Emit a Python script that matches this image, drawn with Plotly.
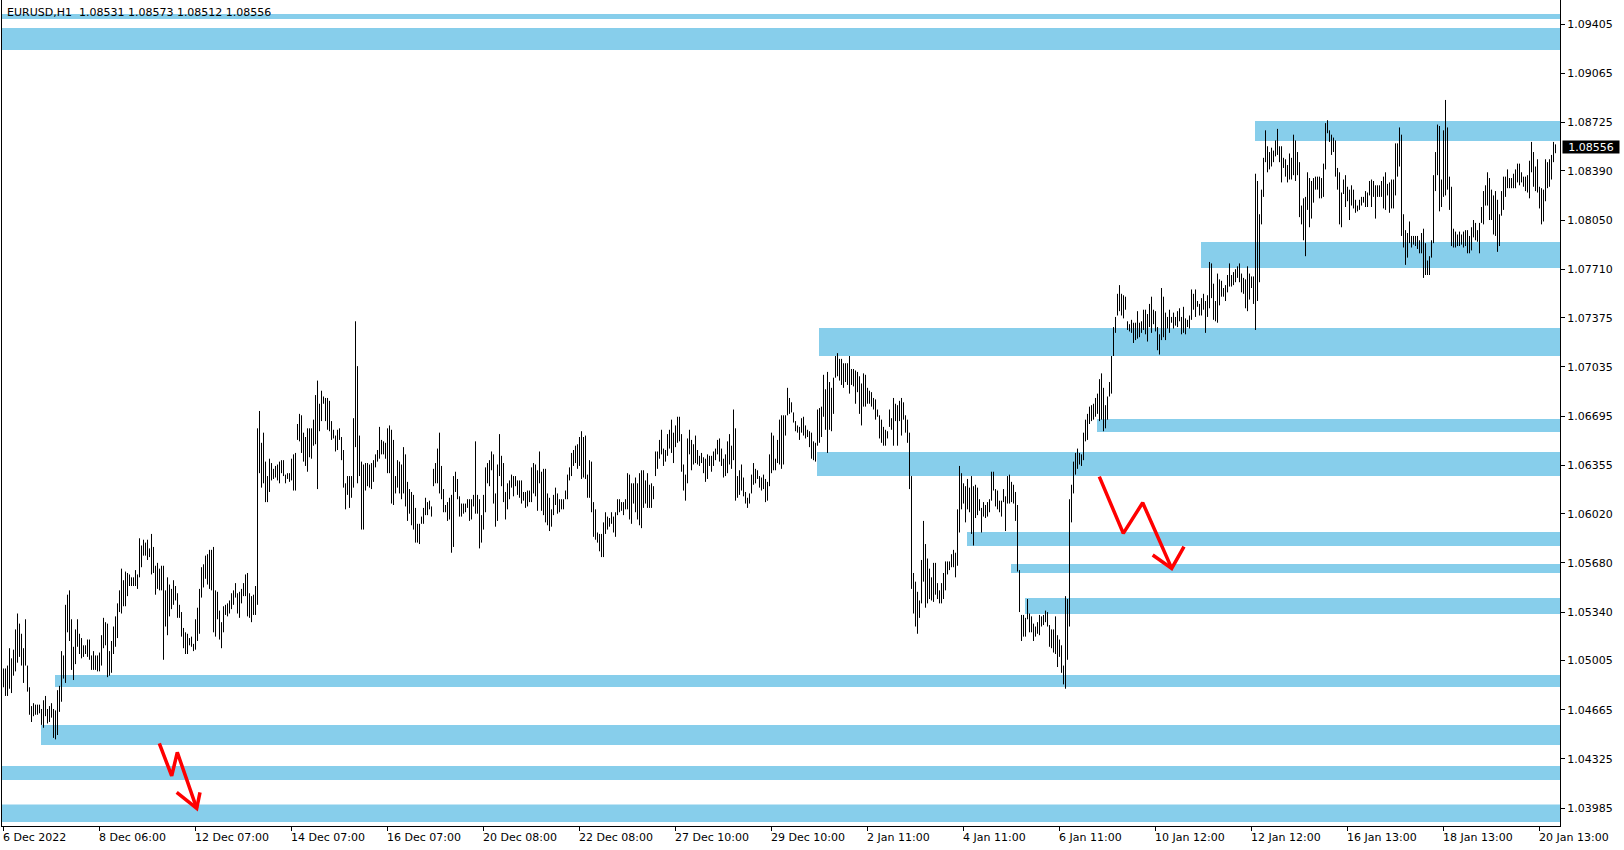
import plotly.graph_objects as go

# ---------------- data ----------------
symbol_title = "EURUSD,H1  1.08531 1.08573 1.08512 1.08556"
last_price = 1.08556

bar_high = [
    1.0495, 1.0495, 1.0497, 1.0509, 1.0502, 1.0508, 1.0522, 1.0533, 1.0526, 1.0519,
    1.0509, 1.0529, 1.0497, 1.0482, 1.0469, 1.0471, 1.0470, 1.0470, 1.0470, 1.0467,
    1.0473, 1.0476, 1.0467, 1.0469, 1.0471, 1.0467, 1.0466, 1.0480, 1.0483, 1.0507,
    1.0504, 1.0539, 1.0546, 1.0549, 1.0529, 1.0510, 1.0522, 1.0529, 1.0519, 1.0516,
    1.0511, 1.0511, 1.0515, 1.0515, 1.0504, 1.0507, 1.0504, 1.0504, 1.0506, 1.0518,
    1.0530, 1.0527, 1.0526, 1.0507, 1.0514, 1.0524, 1.0531, 1.0540, 1.0549, 1.0564,
    1.0556, 1.0562, 1.0561, 1.0560, 1.0558, 1.0558, 1.0563, 1.0560, 1.0585, 1.0580,
    1.0584, 1.0582, 1.0584, 1.0578, 1.0588, 1.0579, 1.0566, 1.0568, 1.0564, 1.0566,
    1.0566, 1.0549, 1.0558, 1.0553, 1.0550, 1.0556, 1.0552, 1.0547, 1.0539, 1.0534,
    1.0523, 1.0520, 1.0519, 1.0516, 1.0517, 1.0512, 1.0529, 1.0537, 1.0550, 1.0565,
    1.0567, 1.0573, 1.0574, 1.0577, 1.0577, 1.0579, 1.0549, 1.0548, 1.0535, 1.0527,
    1.0538, 1.0539, 1.0540, 1.0542, 1.0547, 1.0549, 1.0554, 1.0547, 1.0548, 1.0550,
    1.0554, 1.0560, 1.0561, 1.0547, 1.0545, 1.0546, 1.0552, 1.0661, 1.0673, 1.0651,
    1.0658, 1.0638, 1.0628, 1.0640, 1.0637, 1.0633, 1.0635, 1.0636, 1.0638, 1.0639,
    1.0639, 1.0629, 1.0630, 1.0630, 1.0640, 1.0643, 1.0644, 1.0664, 1.0671, 1.0670,
    1.0658, 1.0655, 1.0661, 1.0661, 1.0661, 1.0667, 1.0684, 1.0694, 1.0678, 1.0687,
    1.0683, 1.0682, 1.0682, 1.0680, 1.0666, 1.0660, 1.0656, 1.0660, 1.0661, 1.0655,
    1.0646, 1.0623, 1.0628, 1.0628, 1.0628, 1.0668, 1.0735, 1.0704, 1.0656, 1.0638,
    1.0636, 1.0637, 1.0637, 1.0636, 1.0637, 1.0639, 1.0643, 1.0646, 1.0662, 1.0653,
    1.0652, 1.0651, 1.0661, 1.0663, 1.0660, 1.0653, 1.0628, 1.0639, 1.0638,
    1.0636, 1.0648, 1.0643, 1.0624, 1.0619, 1.0617, 1.0615, 1.0606, 1.0595, 1.0595,
    1.0600, 1.0606, 1.0613, 1.0610, 1.0611, 1.0607, 1.0633, 1.0637, 1.0647, 1.0658,
    1.0635, 1.0619, 1.0608, 1.0610, 1.0613, 1.0615, 1.0628, 1.0631, 1.0626, 1.0614,
    1.0609, 1.0609, 1.0609, 1.0612, 1.0612, 1.0612, 1.0615, 1.0652, 1.0615, 1.0612,
    1.0601, 1.0615, 1.0634, 1.0637, 1.0639, 1.0645, 1.0643, 1.0616, 1.0636, 1.0657,
    1.0642, 1.0637, 1.0617, 1.0623, 1.0625, 1.0629, 1.0628, 1.0628, 1.0625, 1.0625,
    1.0625, 1.0617, 1.0617, 1.0618, 1.0618, 1.0634, 1.0637, 1.0636, 1.0632, 1.0645,
    1.0631, 1.0633, 1.0633, 1.0616, 1.0613, 1.0605, 1.0615, 1.0620, 1.0616, 1.0612,
    1.0612, 1.0612, 1.0618, 1.0629, 1.0634, 1.0644, 1.0646, 1.0649, 1.0650, 1.0655,
    1.0659, 1.0655, 1.0656, 1.0629, 1.0639, 1.0638, 1.0610, 1.0605, 1.0589, 1.0588,
    1.0588, 1.0596, 1.0603, 1.0600, 1.0599, 1.0603, 1.0600, 1.0603, 1.0612, 1.0612,
    1.0610, 1.0610, 1.0612, 1.0630, 1.0629, 1.0623, 1.0623, 1.0627, 1.0623, 1.0630,
    1.0632, 1.0632, 1.0625, 1.0630, 1.0622, 1.0623, 1.0621, 1.0645, 1.0645, 1.0653,
    1.0660, 1.0647, 1.0646, 1.0657, 1.0660, 1.0667, 1.0658, 1.0663, 1.0669, 1.0669,
    1.0657, 1.0636, 1.0629, 1.0654, 1.0660, 1.0653, 1.0650, 1.0656, 1.0646, 1.0642,
    1.0644, 1.0641, 1.0640, 1.0643, 1.0642, 1.0642, 1.0645, 1.0647, 1.0653, 1.0654,
    1.0647, 1.0640, 1.0643, 1.0652, 1.0657, 1.0649, 1.0674, 1.0661, 1.0628, 1.0632,
    1.0636, 1.0627, 1.0617, 1.0613, 1.0616, 1.0629, 1.0637, 1.0633, 1.0632, 1.0628,
    1.0627, 1.0629, 1.0626, 1.0624, 1.0643, 1.0658, 1.0656, 1.0640, 1.0653, 1.0667,
    1.0670, 1.0670, 1.0670, 1.0689, 1.0682, 1.0679, 1.0672, 1.0666, 1.0663, 1.0662,
    1.0668, 1.0669, 1.0663, 1.0660, 1.0659, 1.0658, 1.0652, 1.0651, 1.0674, 1.0675,
    1.0676, 1.0698, 1.0688, 1.0700, 1.0693, 1.0689, 1.0696, 1.0711, 1.0713, 1.0709,
    1.0709, 1.0706, 1.0706, 1.0706, 1.0711, 1.0702, 1.0702, 1.0701, 1.0700, 1.0697,
    1.0692, 1.0699, 1.0698, 1.0689, 1.0687, 1.0686, 1.0682, 1.0681, 1.0674, 1.0670,
    1.0667, 1.0662, 1.0660, 1.0659, 1.0674, 1.0668, 1.0682, 1.0678, 1.0677, 1.0680,
    1.0682, 1.0679, 1.0670, 1.0667, 1.0658, 1.0628, 1.0561, 1.0555, 1.0548, 1.0542,
    1.0570, 1.0597, 1.0581, 1.0571, 1.0564, 1.0558, 1.0568, 1.0568, 1.0554, 1.0549,
    1.0554, 1.0561, 1.0569, 1.0569, 1.0569, 1.0574, 1.0577, 1.0575, 1.0605, 1.0635,
    1.0630, 1.0623, 1.0621, 1.0626, 1.0620, 1.0628, 1.0621, 1.0622, 1.0620, 1.0612,
    1.0606, 1.0610, 1.0608, 1.0610, 1.0612, 1.0631, 1.0631, 1.0619, 1.0618, 1.0611,
    1.0611, 1.0619, 1.0614, 1.0628, 1.0629, 1.0624, 1.0622, 1.0617, 1.0608, 1.0563,
    1.0532, 1.0532, 1.0530, 1.0543, 1.0533, 1.0531, 1.0526, 1.0524, 1.0527, 1.0532,
    1.0531, 1.0532, 1.0535, 1.0534, 1.0525, 1.0522, 1.0522, 1.0531, 1.0518, 1.0515,
    1.0511, 1.0497, 1.0545, 1.0543, 1.0612, 1.0622, 1.0638, 1.0644, 1.0647, 1.0644,
    1.0643, 1.0658, 1.0667, 1.0671, 1.0676, 1.0677, 1.0678, 1.0682, 1.0685, 1.0695,
    1.0699, 1.0689, 1.0677, 1.0683, 1.0693, 1.0711, 1.0731, 1.0738, 1.0754, 1.0760,
    1.0754, 1.0753, 1.0752, 1.0735, 1.0733, 1.0736, 1.0734, 1.0734, 1.0742, 1.0734,
    1.0735, 1.0743, 1.0743, 1.0740, 1.0747, 1.0752, 1.0743, 1.0742, 1.0731, 1.0726,
    1.0758, 1.0752, 1.0741, 1.0738, 1.0743, 1.0738, 1.0741, 1.0738, 1.0742, 1.0744,
    1.0738, 1.0745, 1.0737, 1.0736, 1.0739, 1.0757, 1.0754, 1.0757, 1.0749, 1.0747,
    1.0751, 1.0754, 1.0749, 1.0753, 1.0776, 1.0775, 1.0761, 1.0749, 1.0768, 1.0764,
    1.0763, 1.0758, 1.0760, 1.0767, 1.0775, 1.0767, 1.0769, 1.0771, 1.0773, 1.0775,
    1.0768, 1.0765, 1.0764, 1.0773, 1.0768, 1.0766, 1.0766, 1.0837, 1.0832, 1.0809,
    1.0826, 1.0848, 1.0867, 1.0856, 1.0852, 1.0855, 1.0853, 1.0860, 1.0868, 1.0856,
    1.0856, 1.0848, 1.0847, 1.0843, 1.0851, 1.0848, 1.0864, 1.0860, 1.0852, 1.0845,
    1.0815, 1.0820, 1.0821, 1.0838, 1.0834, 1.0832, 1.0834, 1.0835, 1.0835, 1.0835,
    1.0834, 1.0844, 1.0872, 1.0874, 1.0867, 1.0864, 1.0862, 1.0860, 1.0841, 1.0838,
    1.0824, 1.0833, 1.0836, 1.0828, 1.0826, 1.0829, 1.0826, 1.0819, 1.0815, 1.0819,
    1.0821, 1.0821, 1.0825, 1.0824, 1.0832, 1.0833, 1.0832, 1.0829, 1.0829, 1.0829,
    1.0832, 1.0835, 1.0838, 1.0830, 1.0831, 1.0833, 1.0833, 1.0858, 1.0858, 1.0869,
    1.0864, 1.0809, 1.0798, 1.0796, 1.0804, 1.0794, 1.0794, 1.0794, 1.0794, 1.0791,
    1.0796, 1.0799, 1.0789, 1.0777, 1.0780, 1.0791, 1.0836, 1.0852, 1.0871, 1.0870,
    1.0833, 1.0867, 1.0888, 1.0869, 1.0835, 1.0828, 1.0799, 1.0797, 1.0795, 1.0797,
    1.0795, 1.0797, 1.0798, 1.0798, 1.0794, 1.0800, 1.0805, 1.0803, 1.0798, 1.0803,
    1.0814, 1.0825, 1.0829, 1.0838, 1.0834, 1.0826, 1.0822, 1.0825, 1.0819, 1.0809,
    1.0825, 1.0835, 1.0835, 1.0840, 1.0834, 1.0834, 1.0837, 1.0840, 1.0844, 1.0844,
    1.0838, 1.0835, 1.0835, 1.0836, 1.0846, 1.0859, 1.0852, 1.0842, 1.0847, 1.0828,
    1.0827, 1.0826, 1.0847, 1.0845, 1.0847, 1.0850, 1.0859, 1.08573,
]

bar_low = [
    1.0482, 1.0476, 1.0476, 1.0481, 1.0478, 1.0490, 1.0493, 1.0499, 1.0503, 1.0497,
    1.0485, 1.0497, 1.0479, 1.0463, 1.0458, 1.0462, 1.0463, 1.0463, 1.0464, 1.0456,
    1.0454, 1.0462, 1.0457, 1.0458, 1.0461, 1.0447, 1.0446, 1.0449, 1.0465, 1.0472,
    1.0488, 1.0485, 1.0520, 1.0514, 1.0494, 1.0487, 1.0498, 1.0510, 1.0505, 1.0502,
    1.0503, 1.0505, 1.0503, 1.0501, 1.0494, 1.0494, 1.0494, 1.0493, 1.0493, 1.0497,
    1.0509, 1.0511, 1.0489, 1.0490, 1.0492, 1.0505, 1.0510, 1.0516, 1.0534, 1.0533,
    1.0538, 1.0538, 1.0545, 1.0552, 1.0552, 1.0552, 1.0552, 1.0550, 1.0558, 1.0565,
    1.0573, 1.0573, 1.0570, 1.0572, 1.0560, 1.0561, 1.0546, 1.0550, 1.0549, 1.0549,
    1.0501, 1.0524, 1.0518, 1.0531, 1.0536, 1.0539, 1.0542, 1.0530, 1.0530, 1.0517,
    1.0509, 1.0505, 1.0505, 1.0511, 1.0510, 1.0507, 1.0508, 1.0514, 1.0519, 1.0544,
    1.0551, 1.0557, 1.0553, 1.0550, 1.0549, 1.0520, 1.0517, 1.0529, 1.0515, 1.0509,
    1.0520, 1.0532, 1.0531, 1.0533, 1.0536, 1.0539, 1.0544, 1.0533, 1.0530, 1.0540,
    1.0545, 1.0545, 1.0531, 1.0530, 1.0527, 1.0532, 1.0532, 1.0539, 1.0630, 1.0620,
    1.0623, 1.0610, 1.0610, 1.0617, 1.0625, 1.0626, 1.0627, 1.0625, 1.0623, 1.0630,
    1.0628, 1.0623, 1.0626, 1.0624, 1.0625, 1.0618, 1.0618, 1.0653, 1.0652, 1.0644,
    1.0638, 1.0635, 1.0631, 1.0641, 1.0640, 1.0649, 1.0650, 1.0619, 1.0659, 1.0666,
    1.0678, 1.0666, 1.0660, 1.0659, 1.0653, 1.0654, 1.0645, 1.0646, 1.0653, 1.0639,
    1.0620, 1.0605, 1.0615, 1.0606, 1.0613, 1.0620, 1.0648, 1.0623, 1.0628, 1.0591,
    1.0591, 1.0618, 1.0621, 1.0620, 1.0619, 1.0624, 1.0634, 1.0638, 1.0640, 1.0643,
    1.0643, 1.0640, 1.0630, 1.0630, 1.0609, 1.0608, 1.0616, 1.0620, 1.0616,
    1.0612, 1.0616, 1.0607, 1.0597, 1.0602, 1.0594, 1.0591, 1.0582, 1.0582, 1.0581,
    1.0595, 1.0595, 1.0601, 1.0601, 1.0605, 1.0600, 1.0621, 1.0623, 1.0623, 1.0616,
    1.0612, 1.0603, 1.0603, 1.0597, 1.0598, 1.0575, 1.0579, 1.0617, 1.0612, 1.0600,
    1.0600, 1.0602, 1.0603, 1.0606, 1.0597, 1.0598, 1.0607, 1.0602, 1.0602, 1.0578,
    1.0582, 1.0591, 1.0603, 1.0623, 1.0621, 1.0632, 1.0609, 1.0593, 1.0597, 1.0628,
    1.0621, 1.0610, 1.0598, 1.0605, 1.0612, 1.0620, 1.0614, 1.0621, 1.0615, 1.0613,
    1.0609, 1.0611, 1.0606, 1.0607, 1.0610, 1.0610, 1.0616, 1.0614, 1.0604, 1.0623,
    1.0604, 1.0601, 1.0596, 1.0594, 1.0590, 1.0593, 1.0601, 1.0608, 1.0602, 1.0603,
    1.0605, 1.0605, 1.0612, 1.0612, 1.0625, 1.0628, 1.0635, 1.0637, 1.0633, 1.0635,
    1.0626, 1.0627, 1.0626, 1.0613, 1.0613, 1.0603, 1.0586, 1.0584, 1.0582, 1.0576,
    1.0572, 1.0572, 1.0588, 1.0591, 1.0593, 1.0595, 1.0589, 1.0586, 1.0601, 1.0603,
    1.0604, 1.0601, 1.0605, 1.0605, 1.0598, 1.0595, 1.0609, 1.0603, 1.0598, 1.0594,
    1.0592, 1.0606, 1.0609, 1.0606, 1.0606, 1.0606, 1.0612, 1.0628, 1.0633, 1.0640,
    1.0643, 1.0635, 1.0638, 1.0642, 1.0647, 1.0644, 1.0637, 1.0648, 1.0651, 1.0652,
    1.0631, 1.0618, 1.0611, 1.0623, 1.0643, 1.0632, 1.0636, 1.0637, 1.0636, 1.0635,
    1.0637, 1.0630, 1.0624, 1.0626, 1.0635, 1.0631, 1.0635, 1.0639, 1.0643, 1.0638,
    1.0635, 1.0627, 1.0628, 1.0630, 1.0636, 1.0633, 1.0639, 1.0611, 1.0613, 1.0615,
    1.0618, 1.0614, 1.0609, 1.0606, 1.0609, 1.0616, 1.0622, 1.0623, 1.0626, 1.0620,
    1.0618, 1.0619, 1.0610, 1.0611, 1.0621, 1.0630, 1.0632, 1.0632, 1.0637, 1.0636,
    1.0633, 1.0636, 1.0656, 1.0670, 1.0671, 1.0672, 1.0665, 1.0659, 1.0658, 1.0653,
    1.0658, 1.0656, 1.0654, 1.0655, 1.0648, 1.0640, 1.0639, 1.0638, 1.0649, 1.0651,
    1.0655, 1.0669, 1.0660, 1.0644, 1.0660, 1.0659, 1.0671, 1.0696, 1.0697, 1.0694,
    1.0691, 1.0689, 1.0693, 1.0691, 1.0685, 1.0691, 1.0690, 1.0678, 1.0686, 1.0671,
    1.0663, 1.0676, 1.0676, 1.0678, 1.0678, 1.0676, 1.0674, 1.0667, 1.0669, 1.0654,
    1.0651, 1.0649, 1.0649, 1.0654, 1.0662, 1.0660, 1.0649, 1.0666, 1.0649, 1.0666,
    1.0656, 1.0667, 1.0658, 1.0651, 1.0619, 1.0550, 1.0533, 1.0524, 1.0519, 1.0530,
    1.0540, 1.0555, 1.0537, 1.0540, 1.0543, 1.0542, 1.0541, 1.0546, 1.0543, 1.0540,
    1.0540, 1.0543, 1.0549, 1.0560, 1.0563, 1.0565, 1.0565, 1.0558, 1.0566, 1.0589,
    1.0605, 1.0609, 1.0596, 1.0605, 1.0603, 1.0588, 1.0580, 1.0599, 1.0601, 1.0604,
    1.0589, 1.0600, 1.0599, 1.0600, 1.0603, 1.0611, 1.0618, 1.0607, 1.0605, 1.0603,
    1.0600, 1.0610, 1.0590, 1.0609, 1.0609, 1.0610, 1.0609, 1.0597, 1.0562, 1.0534,
    1.0514, 1.0517, 1.0517, 1.0529, 1.0520, 1.0520, 1.0514, 1.0517, 1.0519, 1.0518,
    1.0524, 1.0525, 1.0527, 1.0524, 1.0510, 1.0509, 1.0506, 1.0505, 1.0496, 1.0503,
    1.0492, 1.0484, 1.0481, 1.0501, 1.0524, 1.0596, 1.0616, 1.0629, 1.0633, 1.0636,
    1.0635, 1.0639, 1.0652, 1.0653, 1.0664, 1.0666, 1.0667, 1.0669, 1.0671, 1.0666,
    1.0667, 1.0659, 1.0661, 1.0667, 1.0683, 1.0685, 1.0711, 1.0727, 1.0739, 1.0742,
    1.0739, 1.0737, 1.0743, 1.0729, 1.0728, 1.0727, 1.0720, 1.0722, 1.0723, 1.0724,
    1.0727, 1.0729, 1.0726, 1.0721, 1.0731, 1.0727, 1.0733, 1.0728, 1.0715, 1.0712,
    1.0722, 1.0724, 1.0722, 1.0730, 1.0727, 1.0734, 1.0730, 1.0732, 1.0731, 1.0735,
    1.0726, 1.0727, 1.0726, 1.0731, 1.0730, 1.0736, 1.0743, 1.0738, 1.0745, 1.0739,
    1.0739, 1.0743, 1.0727, 1.0738, 1.0744, 1.0751, 1.0736, 1.0735, 1.0734, 1.0746,
    1.0752, 1.0752, 1.0749, 1.0755, 1.0759, 1.0759, 1.0760, 1.0762, 1.0765, 1.0762,
    1.0755, 1.0754, 1.0744, 1.0742, 1.0750, 1.0758, 1.0747, 1.0729, 1.0749, 1.0762,
    1.0802, 1.0821, 1.0845, 1.0838, 1.0840, 1.0842, 1.0845, 1.0849, 1.0850, 1.0845,
    1.0831, 1.0841, 1.0835, 1.0831, 1.0833, 1.0833, 1.0836, 1.0832, 1.0836, 1.0807,
    1.0802, 1.0791, 1.0780, 1.0812, 1.0800, 1.0806, 1.0817, 1.0826, 1.0826, 1.0820,
    1.0820, 1.0821, 1.0840, 1.0865, 1.0859, 1.0850, 1.0852, 1.0835, 1.0826, 1.0802,
    1.0800, 1.0823, 1.0814, 1.0818, 1.0805, 1.0815, 1.0813, 1.0810, 1.0811, 1.0812,
    1.0815, 1.0817, 1.0814, 1.0814, 1.0822, 1.0814, 1.0821, 1.0806, 1.0821, 1.0821,
    1.0821, 1.0813, 1.0812, 1.0822, 1.0810, 1.0813, 1.0813, 1.0822, 1.0835, 1.0842,
    1.0794, 1.0786, 1.0774, 1.0779, 1.0789, 1.0786, 1.0788, 1.0787, 1.0785, 1.0782,
    1.0782, 1.0765, 1.0767, 1.0767, 1.0767, 1.0779, 1.0789, 1.0825, 1.0836, 1.0811,
    1.0814, 1.0821, 1.0822, 1.0826, 1.0812, 1.0787, 1.0786, 1.0786, 1.0787, 1.0787,
    1.0788, 1.0786, 1.0787, 1.0782, 1.0782, 1.0784, 1.0793, 1.0791, 1.0790, 1.0782,
    1.0803, 1.0802, 1.0815, 1.0815, 1.0805, 1.0805, 1.0795, 1.0794, 1.0783, 1.0787,
    1.0808, 1.0812, 1.0821, 1.0827, 1.0827, 1.0827, 1.0827, 1.0827, 1.0831, 1.0829,
    1.0831, 1.0828, 1.0825, 1.0824, 1.0820, 1.0838, 1.0828, 1.0825, 1.0824, 1.0813,
    1.0802, 1.0804, 1.0818, 1.0827, 1.0828, 1.0833, 1.0845, 1.08512,
]

x_tick_bars = [0, 48, 96, 144, 192, 240, 288, 336, 384, 432, 480, 528, 576, 624, 672, 720, 768]
x_tick_labels = ["6 Dec 2022", "8 Dec 06:00", "12 Dec 07:00", "14 Dec 07:00", "16 Dec 07:00",
                 "20 Dec 08:00", "22 Dec 08:00", "27 Dec 10:00", "29 Dec 10:00", "2 Jan 11:00",
                 "4 Jan 11:00", "6 Jan 11:00", "10 Jan 12:00", "12 Jan 12:00", "16 Jan 13:00",
                 "18 Jan 13:00", "20 Jan 13:00"]
y_tick_values = [1.03985, 1.04325, 1.04665, 1.05005, 1.05340, 1.05680, 1.06020, 1.06355,
                 1.06695, 1.07035, 1.07375, 1.07710, 1.08050, 1.08390, 1.08725, 1.09065, 1.09405]

# support / resistance zones: start bar (None = from left edge), low price, high price
zone_start = [None, None, 625.75, 598.75, 407.75, 546.75, 406.75, 481.75, 503.75, 510.75,
              25.75, 18.75, None, None]
zone_low = [1.09440, 1.09225, 1.08596, 1.07718, 1.07110, 1.06585, 1.06280, 1.05796, 1.05610,
            1.05326, 1.04822, 1.04421, 1.04179, 1.03889]
zone_high = [1.09474, 1.09377, 1.08735, 1.07898, 1.07304, 1.06674, 1.06446, 1.05893, 1.05672,
             1.05437, 1.04905, 1.04559, 1.04275, 1.04009]

# hand-drawn red arrows (bar index, price)
arrow1_bar = [77.9, 84.1, 86.9, 96.6, None, 86.6, 96.6, 98.25]
arrow1_price = [1.04433, 1.04207, 1.04370, 1.03983, None, 1.04094, 1.03983, 1.04094]
arrow2_bar = [547.9, 559.9, 569.6, 584.1, None, 574.6, 584.1, 590.25]
arrow2_price = [1.06276, 1.05884, 1.06096, 1.05642, None, 1.05734, 1.05642, 1.05792]

# ---------------- figure ----------------
fig = go.Figure()

bx, by = [], []
for i, (h, l) in enumerate(zip(bar_high, bar_low)):
    bx += [i, i, None]
    by += [l, h, None]
fig.add_trace(go.Scatter(x=bx, y=by, mode="lines", line=dict(color="black", width=1),
                         hoverinfo="skip", showlegend=False))

for ax, ay in ((arrow1_bar, arrow1_price), (arrow2_bar, arrow2_price)):
    fig.add_trace(go.Scatter(x=ax, y=ay, mode="lines", line=dict(color="#ff0000", width=3.5),
                             hoverinfo="skip", showlegend=False))

for s, lo, hi in zip(zone_start, zone_low, zone_high):
    fig.add_shape(type="rect", xref="x", yref="y", x0=(-20 if s is None else s), x1=900,
                  y0=lo, y1=hi, fillcolor="#87CEEB", line=dict(width=0), layer="below")

for xb, lab in zip(x_tick_bars, x_tick_labels):
    fig.add_annotation(x=xb, xref="x", y=0, yref="paper", text=lab, showarrow=False,
                       xanchor="left", yanchor="middle", yshift=-11, xshift=-3,
                       font=dict(family="DejaVu Sans", size=11, color="black"))

fig.add_annotation(x=0, xref="paper", y=1, yref="paper", text=symbol_title, showarrow=False,
                   xanchor="left", yanchor="top", xshift=3, yshift=-4,
                   font=dict(family="DejaVu Sans", size=11, color="black"))

fig.add_annotation(x=1, xref="paper", y=last_price, yref="y", text=f"{last_price:.5f}",
                   showarrow=False, xanchor="left", yanchor="middle", xshift=2,
                   bgcolor="black", width=56, height=12, borderpad=0,
                   font=dict(family="DejaVu Sans", size=11, color="white"))

fig.update_layout(
    width=1624, height=850, autosize=False,
    margin=dict(l=2, r=64, t=0, b=24, pad=0),
    plot_bgcolor="white", paper_bgcolor="white",
    showlegend=False, hovermode=False,
    font=dict(family="DejaVu Sans", size=11, color="black"),
)
fig.update_xaxes(range=[-0.75, 778.25], showgrid=False, zeroline=False, showline=True,
                 linecolor="black", linewidth=1, mirror=False, ticks="outside", ticklen=4,
                 tickcolor="black", tickvals=x_tick_bars, showticklabels=False)
fig.update_yaxes(side="right", range=[1.03861, 1.09571], showgrid=False, zeroline=False,
                 showline=True, linecolor="black", linewidth=1, mirror=True, ticks="outside",
                 ticklen=4, tickcolor="black", tickvals=y_tick_values, tickformat=".5f")

fig.write_html("out.html", config={"displayModeBar": False},
               post_script="document.body.style.margin='0';document.body.style.overflow='hidden';")
